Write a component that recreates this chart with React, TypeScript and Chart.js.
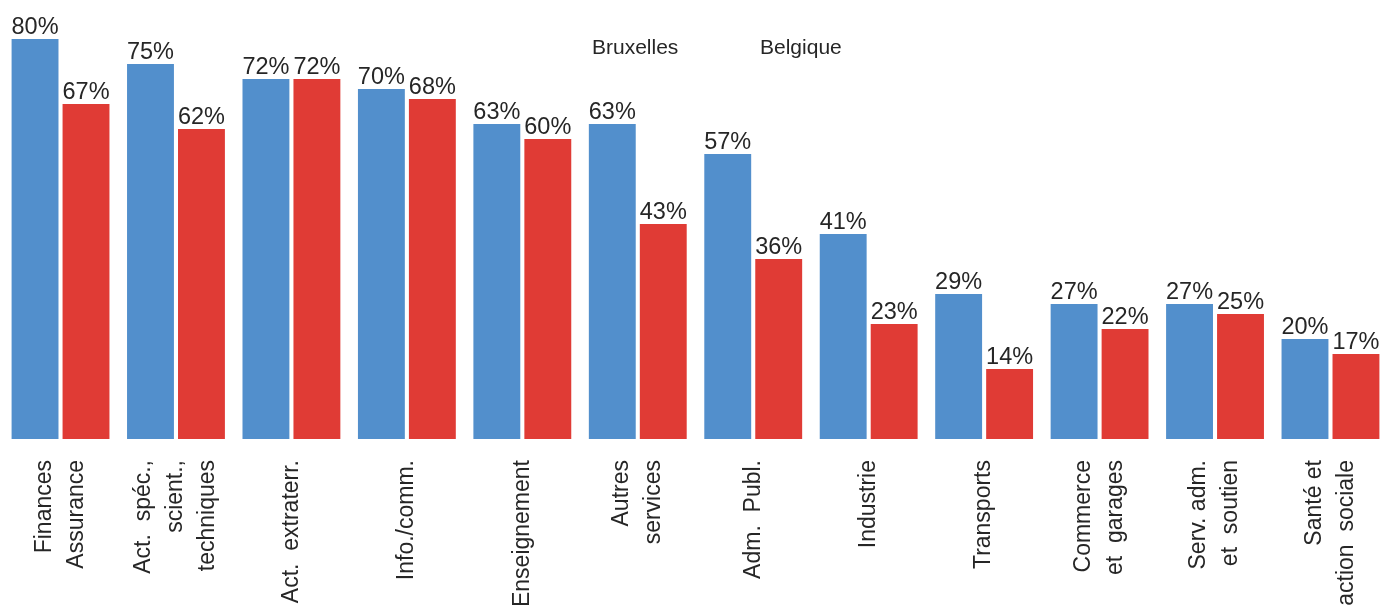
import React, { useEffect, useRef } from "react";
import { Chart, BarController, BarElement, CategoryScale, LinearScale } from "chart.js";

Chart.register(BarController, BarElement, CategoryScale, LinearScale);

// ---- data ----
const categoryLines: string[][] = [
  ["Finances", "Assurance"],
  ["Act.  spéc.,", "scient.,", "techniques"],
  ["Act.  extraterr."],
  ["Info./comm."],
  ["Enseignement"],
  ["Autres", "services"],
  ["Adm.  Publ."],
  ["Industrie"],
  ["Transports"],
  ["Commerce", "et  garages"],
  ["Serv. adm.", "et  soutien"],
  ["Santé et", "action  sociale"],
];
const categories = categoryLines.map((l) => l.join(" "));
const seriesNames = ["Bruxelles", "Belgique"];
const bruxelles = [80, 75, 72, 70, 63, 63, 57, 41, 29, 27, 27, 20];
const belgique = [67, 62, 72, 68, 60, 43, 36, 23, 14, 22, 25, 17];

// ---- style ----
const BLUE = "#528fcc";
const RED = "#e03b35";
const TEXT = "#262626";
const FONT = '"Liberation Sans", Arial, sans-serif';

const overlay = {
  id: "overlay",
  afterDatasetsDraw(chart: any) {
    const ctx: CanvasRenderingContext2D = chart.ctx;
    const area = chart.chartArea;
    ctx.save();
    ctx.fillStyle = TEXT;

    // value labels
    ctx.font = `23.5px ${FONT}`;
    ctx.textAlign = "center";
    ctx.textBaseline = "alphabetic";
    chart.data.datasets.forEach((ds: any, di: number) => {
      const meta = chart.getDatasetMeta(di);
      meta.data.forEach((bar: any, i: number) => {
        ctx.fillText(`${ds.data[i]}%`, bar.x, bar.y - 5);
      });
    });

    // category labels (rotated, multi-line, centred on the category)
    const xs = chart.scales.x;
    const lineH = 32;
    ctx.font = `23px ${FONT}`;
    ctx.textAlign = "right";
    ctx.textBaseline = "middle";
    categoryLines.forEach((lines, i) => {
      const cx = xs.getPixelForValue(i);
      lines.forEach((line, j) => {
        const off = (j - (lines.length - 1) / 2) * lineH;
        ctx.save();
        ctx.translate(cx + off, area.bottom + 21);
        ctx.rotate(-Math.PI / 2);
        ctx.fillText(line, 0, 0);
        ctx.restore();
      });
    });

    // legend (text only)
    ctx.font = `21px ${FONT}`;
    ctx.textAlign = "left";
    ctx.textBaseline = "alphabetic";
    ctx.fillText(chart.data.datasets[0].label, 592, 54);
    ctx.fillText(chart.data.datasets[1].label, 760, 54);
    ctx.restore();
  },
};

export default function App() {
  const ref = useRef<HTMLCanvasElement | null>(null);
  useEffect(() => {
    if (!ref.current) return;
    const chart = new Chart(ref.current, {
      type: "bar",
      data: {
        labels: categories,
        datasets: [
          { label: seriesNames[0], data: bruxelles, backgroundColor: BLUE, borderWidth: 0 },
          { label: seriesNames[1], data: belgique, backgroundColor: RED, borderWidth: 0 },
        ],
      },
      options: {
        animation: false,
        responsive: true,
        maintainAspectRatio: false,
        devicePixelRatio: 1,
        events: [],
        layout: { padding: { left: 2.8, right: 3.8, top: 39, bottom: 171 } },
        datasets: { bar: { categoryPercentage: 0.883, barPercentage: 0.92 } },
        scales: {
          x: { display: false },
          y: { display: false, min: 0, max: 80 },
        },
        plugins: { legend: { display: false }, tooltip: { enabled: false } },
      } as any,
      plugins: [overlay],
    });
    return () => chart.destroy();
  }, []);

  return (
    <div
      style={{
        position: "absolute",
        left: 0,
        top: 0,
        width: 1381,
        height: 610,
        overflow: "hidden",
        background: "#fff",
      }}
    >
      <div style={{ position: "relative", width: 1392, height: 610 }}>
        <canvas ref={ref} />
      </div>
    </div>
  );
}
